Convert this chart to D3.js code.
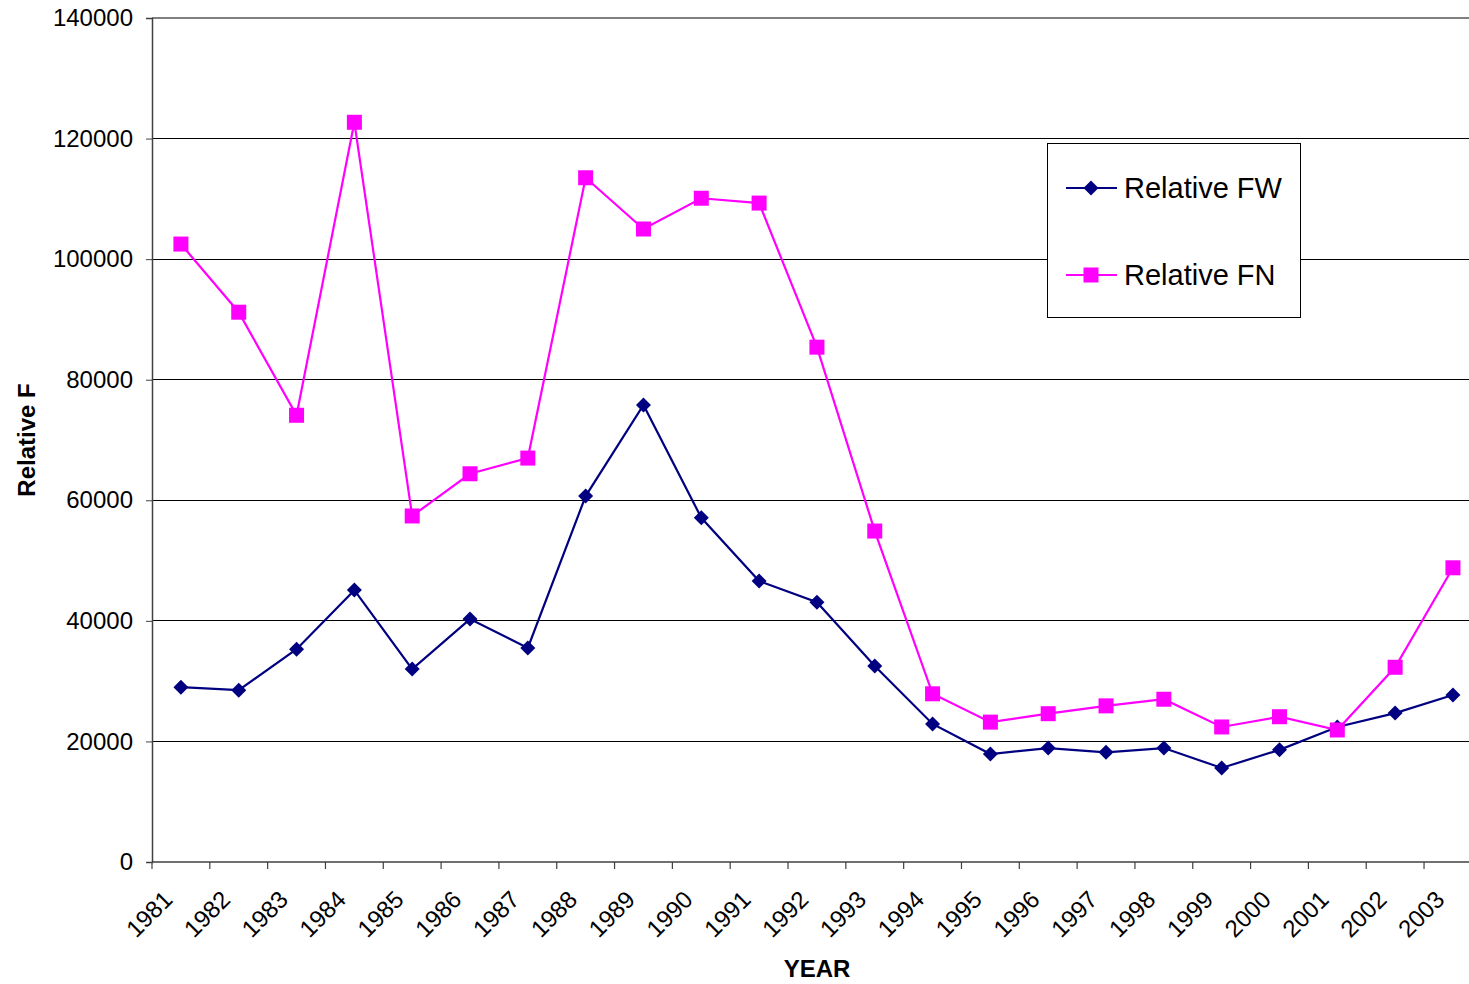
<!DOCTYPE html>
<html>
<head>
<meta charset="utf-8">
<script src="https://cdn.jsdelivr.net/npm/d3@7"></script>
<style>
  html, body { margin: 0; padding: 0; background: #fff; }
  svg { display: block; font-family: "Liberation Sans", Arial, sans-serif; }
</style>
</head>
<body>
<svg id="chart" width="1469" height="984"></svg>
<script>
const years = ["1981","1982","1983","1984","1985","1986","1987","1988","1989","1990","1991","1992",
  "1993","1994","1995","1996","1997","1998","1999","2000","2001","2002","2003"]

const relative_fw = [29000, 28500, 35300, 45100, 32000, 40300, 35500, 60700, 75800, 57100, 46600, 43100,
  32500, 22900, 17900, 18900, 18200, 18900, 15600, 18600, 22400, 24700, 27700]

const relative_fn = [102500, 91200, 74100, 122700, 57400, 64400, 67000, 113500, 105000, 110100, 109300, 85400,
  54900, 27900, 23200, 24600, 25900, 27000, 22400, 24100, 21900, 32300, 48800]

const y_ticks = [0, 20000, 40000, 60000, 80000, 100000, 120000, 140000]

const series = [
  { name: "Relative FW", values: relative_fw, color: "#000080", marker: "diamond" },
  { name: "Relative FN", values: relative_fn, color: "#ff00ff", marker: "square" },
]

const marginLeft = 152
const marginTop = 18
const plotBottom = 862
const bandStep = 57.82

const svg = d3.select("#chart")

// the plot runs past the right edge of the picture, as in the original
const x = d3.scaleBand()
  .domain(years)
  .range([marginLeft, marginLeft + bandStep * years.length])
  .paddingInner(0).paddingOuter(0)

const y = d3.scaleLinear()
  .domain([0, 140000])
  .range([plotBottom, marginTop])

// gridlines
svg.append("g")
  .selectAll("line")
  .data(y_ticks.filter(d => d > 0))
  .enter()
  .append("line")
  .attr("x1", marginLeft)
  .attr("x2", 1469)
  .attr("y1", d => y(d))
  .attr("y2", d => y(d))
  .attr("stroke", d => d == 140000 ? "#808080" : "#000")
  .attr("stroke-width", d => d == 140000 ? 1.5 : 1)
  .attr("shape-rendering", "crispEdges")

// y axis
const yAxis = svg.append("g")
  .attr("transform", `translate(${marginLeft},0)`)
  .call(d3.axisLeft(y).tickValues(y_ticks).tickSize(6).tickPadding(13).tickFormat(d3.format("d")))
yAxis.select(".domain").attr("stroke", "#404040").attr("stroke-width", 1.5)
yAxis.selectAll(".tick line").attr("stroke", "#404040")
yAxis.selectAll(".tick text")
  .attr("font-size", 24)
  .attr("fill", "#000")
  .attr("font-family", "Liberation Sans, Arial, sans-serif")

// x axis: line, ticks at the band edges, rotated labels at the band centres
svg.append("line")
  .attr("x1", marginLeft)
  .attr("x2", 1469)
  .attr("y1", plotBottom)
  .attr("y2", plotBottom)
  .attr("stroke", "#404040")
  .attr("stroke-width", 1.5)

svg.append("g")
  .selectAll("line")
  .data(years)
  .enter()
  .append("line")
  .attr("x1", d => x(d))
  .attr("x2", d => x(d))
  .attr("y1", plotBottom)
  .attr("y2", plotBottom + 7)
  .attr("stroke", "#404040")
  .attr("stroke-width", 1.2)

svg.append("g")
  .selectAll("text")
  .data(years)
  .enter()
  .append("text")
  .attr("transform", d => `translate(${x(d) + x.bandwidth() / 2 - 7},901) rotate(-45)`)
  .attr("text-anchor", "end")
  .attr("font-size", 24)
  .attr("fill", "#000")
  .text(d => d)

// axis titles
svg.append("text")
  .attr("x", 817)
  .attr("y", 977)
  .attr("text-anchor", "middle")
  .attr("font-size", 24)
  .attr("font-weight", "bold")
  .text("YEAR")

svg.append("text")
  .attr("transform", "translate(35,440) rotate(-90)")
  .attr("text-anchor", "middle")
  .attr("font-size", 24)
  .attr("font-weight", "bold")
  .text("Relative F")

// markers
function draw_marker(sel, kind, color){
  if (kind == "diamond"){
    sel.append("path")
      .attr("d", "M0,-7.5L7.5,0L0,7.5L-7.5,0Z")
      .attr("fill", color)
  }
  else {
    sel.append("rect")
      .attr("x", -7.5).attr("y", -7.5)
      .attr("width", 15).attr("height", 15)
      .attr("fill", color)
  }
}

const line = d3.line()
  .x((d, i) => x(years[i]) + x.bandwidth() / 2)
  .y(d => y(d))

for (const s of series){
  svg.append("path")
    .datum(s.values)
    .attr("d", line)
    .attr("fill", "none")
    .attr("stroke", s.color)
    .attr("stroke-width", 2.2)

  svg.append("g")
    .selectAll("g")
    .data(s.values)
    .enter()
    .append("g")
    .attr("transform", (d, i) => `translate(${x(years[i]) + x.bandwidth() / 2},${y(d)})`)
    .each(function(){ draw_marker(d3.select(this), s.marker, s.color) })
}

// legend
const legend = svg.append("g")
legend.append("rect")
  .attr("x", 1047.5).attr("y", 143.5)
  .attr("width", 253).attr("height", 174)
  .attr("fill", "#fff")
  .attr("stroke", "#000")
  .attr("stroke-width", 1)

const legend_y = [188, 275]
series.forEach((s, i) => {
  const g = legend.append("g").attr("transform", `translate(0,${legend_y[i]})`)
  g.append("line")
    .attr("x1", 1066).attr("x2", 1117)
    .attr("stroke", s.color).attr("stroke-width", 2.2)
  draw_marker(g.append("g").attr("transform", "translate(1091,0)"), s.marker, s.color)
  g.append("text")
    .attr("x", 1124)
    .attr("y", 10)
    .attr("font-size", 29)
    .attr("fill", "#000")
    .text(s.name)
})
</script>
</body>
</html>
